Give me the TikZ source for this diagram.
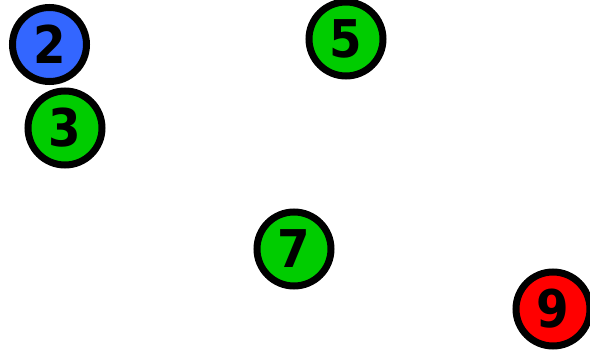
\documentclass[tikz,border=0pt]{standalone}
\usepackage{fontspec}
\usepackage{tikz}
\newfontfamily\digitfont{DejaVu Sans Condensed}
\definecolor{ballblue}{HTML}{3366FF}
\definecolor{ballgreen}{HTML}{00CC00}
\definecolor{ballred}{HTML}{FF0000}
\begin{document}
\begin{tikzpicture}[
  x=1pt, y=-1pt,
  ball/.style={
    circle, draw=black, line width=7pt,
    minimum size=74pt, inner sep=0pt,
    font=\digitfont\bfseries\fontsize{52}{52}\selectfont
  },
]
\useasboundingbox (0,0) rectangle (590,350);

% Kugeln
\node[ball, fill=ballblue] (n2) at (49.5,44.5) {2};
\node[ball, fill=ballgreen] (n3) at (65,128) {3};
\node[ball, fill=ballgreen] (n5) at (346,39) {5};
\node[ball, fill=ballgreen] (n7) at (294,249) {7};
\node[ball, fill=ballred] (n9) at (553,309) {9};

\end{tikzpicture}
\end{document}
